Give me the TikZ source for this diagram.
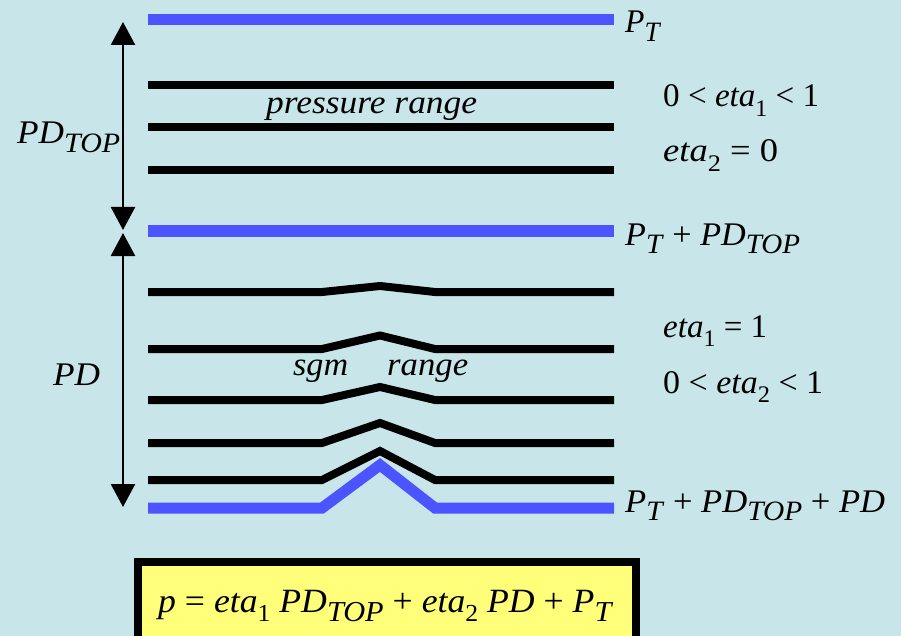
\documentclass[tikz,border=0pt]{standalone}
\usepackage{fontspec}
\setmainfont{Liberation Serif}
\usetikzlibrary{arrows.meta}
\definecolor{bgc}{RGB}{200,230,234}
\definecolor{lvblue}{RGB}{75,84,255}
\definecolor{boxyel}{RGB}{255,255,122}
\newsavebox\fitbox
\newcommand\fitw[2]{\sbox\fitbox{#2}\pgfmathsetmacro\fitr{#1/\the\wd\fitbox}\scalebox{\fitr}[1]{\usebox\fitbox}}
\newcommand\sbl[1]{\raisebox{-0.27em}{\scalebox{0.85}{#1}}}
\newcommand\sbd[1]{\raisebox{-0.28em}{\scalebox{0.72}{#1}}}
\tikzset{
  lbl/.style={inner sep=0pt, anchor=base west, font=\fontsize{33}{40}\selectfont},
  flbl/.style={inner sep=0pt, anchor=base west, font=\fontsize{34}{40}\selectfont},
  blk/.style={line width=8pt, black},
  blu/.style={line width=11pt, lvblue},
  arr/.style={line width=2.5pt, black, {Triangle[length=23pt,width=24pt]}-{Triangle[length=23pt,width=24pt]}},
  fbox/.style={line width=8pt, draw=black, fill=boxyel}
}
\begin{document}
\begin{tikzpicture}[x=1pt,y=-1pt]
\useasboundingbox (0,0) rectangle (901,636);
\fill[bgc] (0,0) rectangle (901,636);
% upper lines
\draw[blu] (148,20) -- (614,20);
\draw[blk] (148,85) -- (614,85);
\draw[blk] (148,127) -- (614,127);
\draw[blk] (148,170) -- (614,170);
\draw[blu] (148,231) -- (614,231);
% lower kinked lines
\draw[blk] (148,292) -- (322,292) -- (380,286) -- (435,292) -- (614,292);
\draw[blk] (148,349) -- (322,349) -- (380,335.5) -- (435,349) -- (614,349);
\draw[blk] (148,400) -- (322,400) -- (380,387) -- (435,400) -- (614,400);
\draw[blk] (148,443) -- (322,443) -- (380,423) -- (435,443) -- (614,443);
\draw[blk] (148,480) -- (322,480) -- (380,451) -- (435,480) -- (614,480);
\draw[blu] (148,508) -- (322,508) -- (380,465) -- (435,508) -- (614,508);
% arrows
\coordinate (a1t) at (123,22);
\coordinate (a1b) at (123,230);
\coordinate (a2t) at (123,233);
\coordinate (a2b) at (123,507);
\draw[arr] (a1t) -- (a1b);
\draw[arr] (a2t) -- (a2b);
% labels
\node[lbl] (pt1) at (625,33) {\fitw{36}{\textit{P}\sbl{\textit{T}}}};
\node[lbl] (e1a) at (663,107) {\fitw{156}{0 < \textit{eta}\sbd{1} < 1}};
\node[lbl] (e2a) at (663,162) {\fitw{115}{\textit{eta}\sbd{2} = 0}};
\node[lbl] (pt2) at (625,245) {\fitw{175}{\textit{P}\sbl{\textit{T}} + \textit{PD}\sbl{\textit{TOP}}}};
\node[lbl] (e1b) at (663,337) {\fitw{104}{\textit{eta}\sbd{1} = 1}};
\node[lbl] (e2b) at (663,393) {\fitw{160}{0 < \textit{eta}\sbd{2} < 1}};
\node[lbl] (pt3) at (625,512) {\fitw{260}{\textit{P}\sbl{\textit{T}} + \textit{PD}\sbl{\textit{TOP}} + \textit{PD}}};
\node[lbl] (pdtop) at (17,144) {\fitw{103}{\textit{PD}\sbl{\textit{TOP}}}};
\node[lbl] (pd) at (53,385) {\fitw{47}{\textit{PD}}};
\node[lbl] (prr) at (266,114) {\fitw{211}{\textit{pressure range}}};
\node[lbl] (sgm) at (293,375) {\fitw{55}{\textit{sgm}}};
\node[lbl] (rng) at (387,375) {\fitw{81}{\textit{range}}};
% formula box
\begin{scope}
\clip (0,0) rectangle (901,636);
\draw[fbox] (138,562) rectangle (636,641);
\end{scope}
\node[flbl] (formula) at (158,612) {\fitw{455}{\textit{p} = \textit{eta}\sbd{1} \textit{PD}\sbl{\textit{TOP}} + \textit{eta}\sbd{2} \textit{PD} + \textit{P}\sbl{\textit{T}}}};
\end{tikzpicture}
\end{document}
